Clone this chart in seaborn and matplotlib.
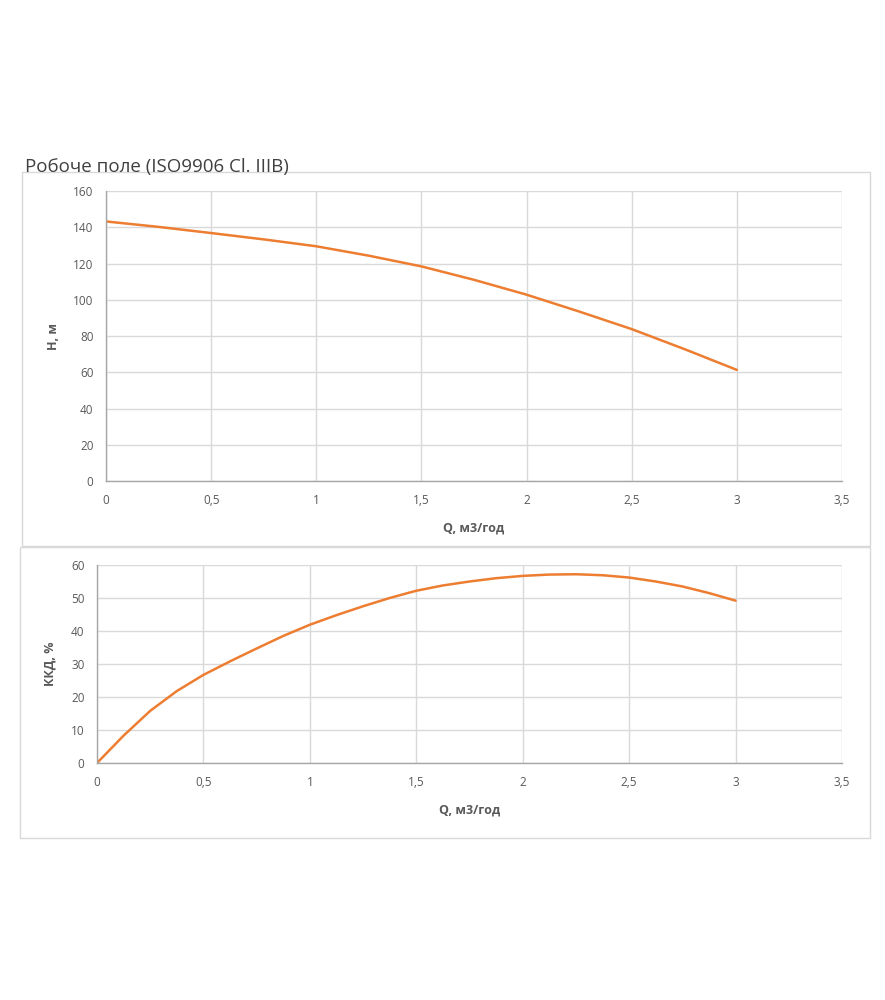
import matplotlib
matplotlib.use("Agg")
import matplotlib.pyplot as plt
import seaborn as sns
import pandas as pd
from matplotlib.patches import Rectangle
from matplotlib.ticker import FuncFormatter, MultipleLocator

sns.set_theme(style="white")
plt.rcParams['font.family'] = ['Open Sans', 'DejaVu Sans']

# Data
q_head = [0, 0.25, 0.5, 0.75, 1.0, 1.25, 1.5, 1.75, 2.0, 2.25, 2.5, 2.75, 3.0]
head_vals = [143.2, 140.2, 136.8, 133.3, 129.5, 124.3, 118.4, 111.0, 102.8, 93.5, 83.8, 72.8, 61.3]

q_eff = [0, 0.125, 0.25, 0.375, 0.5, 0.625, 0.75, 0.875, 1.0, 1.125, 1.25, 1.375,
         1.5, 1.625, 1.75, 1.875, 2.0, 2.125, 2.25, 2.375, 2.5, 2.625, 2.75, 2.875, 3.0]
eff_vals = [0, 8.3, 15.8, 21.8, 26.7, 30.8, 34.7, 38.5, 41.9, 44.8, 47.5, 50.0,
            52.2, 53.8, 55.0, 56.0, 56.7, 57.1, 57.2, 56.9, 56.2, 55.0, 53.5, 51.5, 49.2]

title = "Робоче поле (ISO9906 Cl. IIIB)"
x_label = "Q, м3/год"
y_label_top = "H, м"
y_label_bottom = "ККД, %"

df_h = pd.DataFrame({"Q": q_head, "H": head_vals})
df_e = pd.DataFrame({"Q": q_eff, "E": eff_vals})

LINE = "#ED7D31"
GRID = "#D9D9D9"
TICK = "#595959"
W, H = 885, 1000

fig = plt.figure(figsize=(8.85, 10), dpi=100)

def fx(px):
    return px / W

def fy(py):
    return 1 - py / H

# chart area boxes
fig.patches.append(Rectangle((fx(22), fy(546)), fx(870 - 22), (546 - 172) / H,
                             transform=fig.transFigure, fill=False, edgecolor=GRID, lw=1.0))
fig.patches.append(Rectangle((fx(20), fy(838)), fx(870 - 20), (838 - 547) / H,
                             transform=fig.transFigure, fill=False, edgecolor=GRID, lw=1.0))

ax1 = fig.add_axes([fx(106), fy(481), fx(842 - 106), (481 - 191) / H])
ax2 = fig.add_axes([fx(97), fy(763), fx(842 - 97), (763 - 565) / H])

fmt = FuncFormatter(lambda v, p: ("%g" % v).replace(".", ","))

def style(ax, ymax, ystep, ylabel, ylabx):
    ax.set_xlim(0, 3.5)
    ax.set_ylim(0, ymax)
    ax.xaxis.set_major_locator(MultipleLocator(0.5))
    ax.yaxis.set_major_locator(MultipleLocator(ystep))
    ax.xaxis.set_major_formatter(fmt)
    ax.grid(True, color=GRID, lw=1.0)
    ax.set_axisbelow(True)
    for s in ["top", "right"]:
        ax.spines[s].set_visible(False)
    for s in ["left", "bottom"]:
        ax.spines[s].set_color("#A6A6A6")
        ax.spines[s].set_linewidth(1.0)
    ax.tick_params(axis="both", length=0, labelsize=8.5, labelcolor=TICK, pad=9)
    ax.set_xlabel(x_label, fontsize=9, color=TICK, fontweight="bold", labelpad=11)
    ax.set_ylabel(ylabel, fontsize=9, color=TICK, fontweight="bold")
    ax.yaxis.set_label_coords(ylabx, 0.5)

sns.lineplot(data=df_h, x="Q", y="H", ax=ax1, color=LINE, linewidth=1.8)
sns.lineplot(data=df_e, x="Q", y="E", ax=ax2, color=LINE, linewidth=1.8)

style(ax1, 160, 20, y_label_top, -0.0625)
style(ax2, 60, 10, y_label_bottom, -0.0537)

fig.text(fx(25), fy(172), title, fontsize=13.5, color="#404040", ha="left", va="baseline")

fig.savefig("out.png", dpi=100, facecolor="white")
